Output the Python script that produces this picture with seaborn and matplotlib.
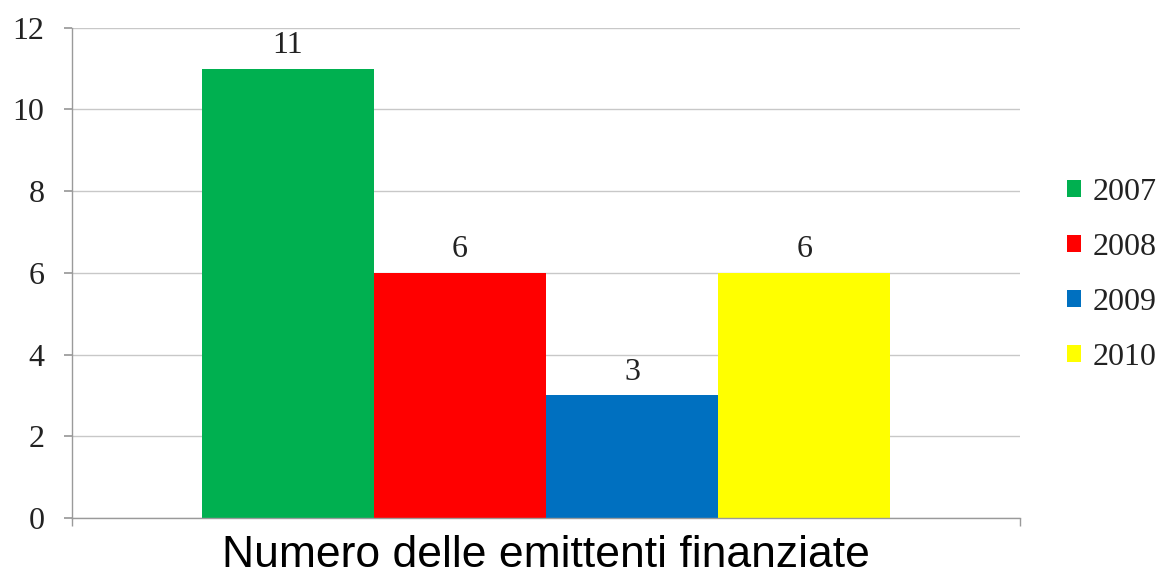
import matplotlib
matplotlib.use("Agg")
import matplotlib.pyplot as plt
import pandas as pd
import seaborn as sns

categoria = ["Numero delle emittenti finanziate"]
anni = ["2007", "2008", "2009", "2010"]
valori = [11, 6, 3, 6]
colori = ["#00B050", "#FF0000", "#0070C0", "#FFFF00"]

df = pd.DataFrame({"cat": categoria * len(anni), "anno": anni, "valore": valori})

sns.set_theme(style="white")
plt.rcParams["font.family"] = ["Liberation Serif", "DejaVu Serif"]

fig = plt.figure(figsize=(11.62, 5.78), dpi=100)
ax = fig.add_axes([0.062, 0.104, 0.816, 0.848])

sns.barplot(data=df, x="cat", y="valore", hue="anno", palette=colori,
            width=0.726, gap=0, dodge=True, saturation=1, linewidth=0,
            ax=ax, legend=True)

for c in ax.containers:
    ax.bar_label(c, fontsize=23, padding=6, color="#222222")

ax.set_xlim(-0.5, 0.5)
ax.set_ylim(0, 12)
ax.set_yticks(range(0, 13, 2))
ax.yaxis.grid(True, color="#c8c8c8", linewidth=1)
ax.set_axisbelow(True)
ax.set_xlabel("")
ax.set_ylabel("")

for s in ["top", "right"]:
    ax.spines[s].set_visible(False)
for s in ["left", "bottom"]:
    ax.spines[s].set_color("#9a9a9a")
    ax.spines[s].set_linewidth(1)

ax.tick_params(axis="y", left=True, length=6, color="#9a9a9a", labelsize=23, pad=14,
               labelcolor="#222222")
ax.tick_params(axis="x", bottom=False, labelsize=32, pad=6)
for t in ax.get_xticklabels():
    t.set_family(["Liberation Sans", "DejaVu Sans"])
    t.set_color("black")
    t.set_x(0.01)
ax.set_xticks([-0.5, 0.5], minor=True)
ax.tick_params(axis="x", which="minor", bottom=True, length=6, color="#9a9a9a")

leg = ax.legend(loc="center left", bbox_to_anchor=(1067 / 1162, 1 - 275 / 578),
                bbox_transform=fig.transFigure, frameon=False,
                fontsize=23, handlelength=0.45, handleheight=0.45, handletextpad=0.35,
                labelspacing=0.81, borderaxespad=0, borderpad=0)
for t in leg.get_texts():
    t.set_color("#222222")

fig.savefig("out.png", dpi=100)
